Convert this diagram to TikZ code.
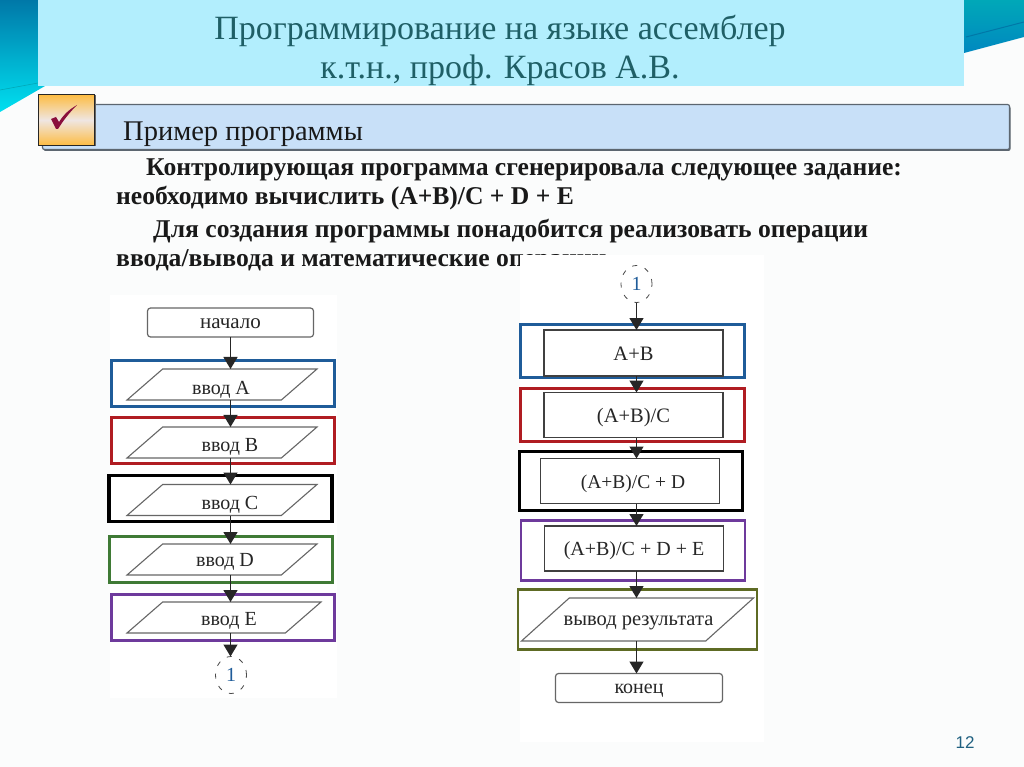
\documentclass[tikz,border=0pt]{standalone}
\usepackage{fontspec}
\setmainfont{Liberation Serif}
\newfontfamily\numfont{Liberation Sans}
\usetikzlibrary{shapes.geometric, arrows.meta, positioning, shadows}

\definecolor{page_bg}{HTML}{FBFCFC}
\definecolor{head_bg}{HTML}{B2EEFD}
\definecolor{head_text}{HTML}{1F5F66}
\definecolor{bar_bg}{HTML}{C8E0F8}
\definecolor{bar_line}{HTML}{5C6670}
\definecolor{tick_red}{HTML}{8A0F3C}
\definecolor{tick_orange}{HTML}{FDBC42}
\definecolor{tick_pale}{HTML}{EFE6E2}
\definecolor{corner_dark}{HTML}{0078A8}
\definecolor{corner_light}{HTML}{00E0F0}
\definecolor{corner_teal}{HTML}{00A8B8}
\definecolor{corner_blue}{HTML}{0088C0}
\definecolor{num_text}{HTML}{1F6080}
\definecolor{frame_blue}{HTML}{1F5C99}
\definecolor{frame_red}{HTML}{B01C22}
\definecolor{frame_green}{HTML}{3F7A35}
\definecolor{frame_purple}{HTML}{6E3A9C}
\definecolor{frame_olive}{HTML}{5E6B24}

\begin{document}
\begin{tikzpicture}[x=1pt, y=-1pt]
% Styles for text and boxes
\tikzstyle{line_text} = [anchor=base west, inner sep=0pt, font=\fontsize{25.6}{26}\selectfont\bfseries, text=black!90]
\tikzstyle{title_text} = [inner sep=0pt, font=\fontsize{34}{34}\selectfont, text=head_text]
\tikzstyle{flow_box} = [rectangle, outer sep=0pt, draw=black!75, line width=1.2pt, fill=white, minimum width=179pt, minimum height=45pt, text height=14.5pt, text depth=0pt, font=\fontsize{20.5}{21}\selectfont, text=black!85]
\tikzstyle{term_box} = [rectangle, rounded corners=3pt, outer sep=0pt, draw=black!60, line width=1.2pt, fill=white, minimum width=166pt, minimum height=29pt, text height=11pt, text depth=0pt, font=\fontsize{21}{21}\selectfont, text=black!85]
\tikzstyle{para} = [trapezium, trapezium stretches body=true, trapezium left angle=41, trapezium right angle=139, outer sep=0pt, inner ysep=15.5pt, draw=black!60, line width=1.1pt, fill=white, minimum width=190pt]
\tikzstyle{para_text} = [font=\fontsize{20}{20}\selectfont, text=black!85, inner sep=0pt]
\tikzstyle{link_circle} = [ellipse, outer sep=0pt, inner sep=0pt, draw=black!70, dash pattern=on 5pt off 8pt, line width=.8pt, minimum width=31pt, minimum height=37pt, font=\fontsize{20}{20}\selectfont, text=frame_blue]
\tikzstyle{left_frame} = [rectangle, outer sep=0pt, line width=2.6pt, minimum width=223pt, minimum height=46pt]
\tikzstyle{right_frame} = [rectangle, outer sep=0pt, line width=2.8pt, minimum width=224pt, minimum height=53pt]
\tikzstyle{arrow} = [draw=black!85, line width=1.4pt, -{Triangle[width=14pt,length=12pt]}]

\useasboundingbox (0,0) rectangle (1024,767);
\fill [page_bg] (0,0) rectangle (1024,767);

% Slide header
\shade [top color=corner_dark, bottom color=corner_light] (0,0) -- (38,0) -- (38,86) -- (45,86) -- (0,112) -- cycle;
\shade [top color=corner_teal, bottom color=corner_blue] (964,0) -- (1024,0) -- (1024,37) -- (964,53) -- cycle;
\draw [corner_teal, line width=.6pt] (0,90) -- (38,83);
\draw [corner_dark, line width=1pt] (966,37) -- (1024,22);
\fill [head_bg] (38,0) rectangle (964,86);
\node (title) [title_text] at (500,31) {Программирование на языке ассемблер};
\node (subtitle) [title_text] at (500,70) {к.т.н., проф. Красов А.В.};

% Section bar with the tick
\node (bar) [rectangle, rounded corners=2pt, draw=bar_line, line width=1.2pt, fill=bar_bg, drop shadow={shadow xshift=1pt, shadow yshift=-1.5pt, fill=bar_line, opacity=1}, minimum width=967pt, minimum height=45pt] at (526,127) {};
\node (tick_box) [rectangle, draw=black!85, line width=1.2pt, top color=tick_orange, bottom color=tick_orange, middle color=tick_pale, drop shadow={shadow xshift=1pt, shadow yshift=-1pt, fill=black!60, opacity=1}, minimum width=56pt, minimum height=51pt] at (66.5,120) {};
\fill [tick_red] (51,119) -- (56,117) -- (59,122) .. controls (64,114) and (70,109) .. (77,105) .. controls (69,113) and (63,121) .. (58,129) -- (56,129) -- cycle;
\node (section) [anchor=base west, inner sep=0pt, font=\fontsize{28.5}{29}\selectfont, text=black!90] at (123,141) {Пример программы};

% Task text
\node (line_one) [line_text] at (146,176) {Контролирующая программа сгенерировала следующее задание:};
\node (line_two) [line_text] at (116,205) {необходимо вычислить (A+B)/C + D + E};
\node (line_three) [line_text] at (153,237) {Для создания программы понадобится реализовать операции};
\node (line_four) [line_text] at (116,266) {ввода/вывода и математические операции};

% White panels under the two schemes
\fill [white] (110,295) rectangle (337,698);
\fill [white] (520,255) rectangle (764,742);

% Left scheme
\node (start) [term_box] at (230.5,322.5) {начало};
\node (frame_a) [left_frame, draw=frame_blue] at (223,383.5) {};
\node (frame_b) [left_frame, draw=frame_red, below=11pt of frame_a] {};
\node (frame_c) [left_frame, draw=black, line width=3.2pt, below=12pt of frame_b, xshift=-2.5pt] {};
\node (frame_d) [left_frame, draw=frame_green, below=15pt of frame_c, xshift=.5pt] {};
\node (frame_e) [left_frame, draw=frame_purple, below=12pt of frame_d, xshift=2pt] {};

\node (in_a) [para, xshift=-1pt, yshift=-1pt, label={[para_text, xshift=-1pt, yshift=-5pt]center:ввод A}] at (frame_a) {};
\node (in_b) [para, xshift=-1pt, yshift=-2pt, label={[para_text, xshift=8pt, yshift=-4pt]center:ввод B}] at (frame_b) {};
\node (in_c) [para, xshift=1.5pt, yshift=-1.5pt, label={[para_text, xshift=8pt, yshift=-5pt]center:ввод C}] at (frame_c) {};
\node (in_d) [para, xshift=1pt, label={[para_text, xshift=3pt, yshift=-2pt]center:ввод D}] at (frame_d) {};
\node (in_e) [para, minimum width=194pt, xshift=1pt, label={[para_text, xshift=5pt, yshift=-3pt]center:ввод E}] at (frame_e) {};
\node (circle_l) [link_circle, below=16pt of frame_e, xshift=8pt] {1};

% Right scheme
\node (circle_r) [link_circle] at (636.5,284) {1};
\node (frame_1) [right_frame, draw=frame_blue] at (632.5,351) {};
\node (frame_2) [right_frame, draw=frame_red, below=11pt of frame_1] {};
\node (frame_3) [right_frame, draw=black, line width=3.4pt, minimum width=223pt, minimum height=59pt, below=10pt of frame_2, xshift=-1.5pt] {};
\node (frame_4) [right_frame, draw=frame_purple, minimum height=60pt, below=10pt of frame_3, xshift=2pt] {};
\node (frame_5) [right_frame, draw=frame_olive, minimum width=239pt, minimum height=60pt, below=9pt of frame_4, xshift=4.5pt] {};

\node (box_1) [flow_box, minimum height=46pt, xshift=1pt, yshift=-2pt] at (frame_1) {A+B};
\node (box_2) [flow_box, xshift=1pt] at (frame_2) {(A+B)/C};
\node (box_3) [flow_box, xshift=-1pt, font=\fontsize{19.5}{20}\selectfont] at (frame_3) {\hspace*{6pt}(A+B)/C + D};
\node (box_4) [flow_box, xshift=1pt, yshift=2pt, font=\fontsize{20}{20}\selectfont] at (frame_4) {(A+B)/C + D + E};
\node (out) [para, trapezium left angle=42, trapezium right angle=138, inner ysep=21.5pt, minimum width=232pt, label={[para_text, font=\fontsize{20.5}{21}\selectfont, xshift=1pt, yshift=-3pt]center:вывод результата}] at (frame_5) {};
\node (stop) [term_box, minimum width=167pt, font=\fontsize{20}{20}\selectfont, below=24pt of frame_5, xshift=1.5pt] {конец};

% Draw arrows for connection
\draw [arrow] (start.south) -- (start.south |- in_a.north);
\draw [arrow] (start.south |- in_a.south) -- (start.south |- in_b.north);
\draw [arrow] (start.south |- in_b.south) -- (start.south |- in_c.north);
\draw [arrow] (start.south |- in_c.south) -- (start.south |- in_d.north);
\draw [arrow] (start.south |- in_d.south) -- (start.south |- in_e.north);
\draw [arrow] (start.south |- in_e.south) -- (start.south |- circle_l.north);

\draw [arrow] (circle_r.south) -- (circle_r.south |- box_1.north);
\draw [arrow] (circle_r.south |- box_1.south) -- (circle_r.south |- box_2.north);
\draw [arrow] (circle_r.south |- box_2.south) -- (circle_r.south |- box_3.north);
\draw [arrow] (circle_r.south |- box_3.south) -- (circle_r.south |- box_4.north);
\draw [arrow] (circle_r.south |- box_4.south) -- (circle_r.south |- out.north);
\draw [arrow] (circle_r.south |- out.south) -- (circle_r.south |- stop.north);

% Page number
\node (page_num) [inner sep=0pt, font=\numfont\fontsize{17}{17}\selectfont, text=num_text] at (965,743) {12};
\end{tikzpicture}
\end{document}
